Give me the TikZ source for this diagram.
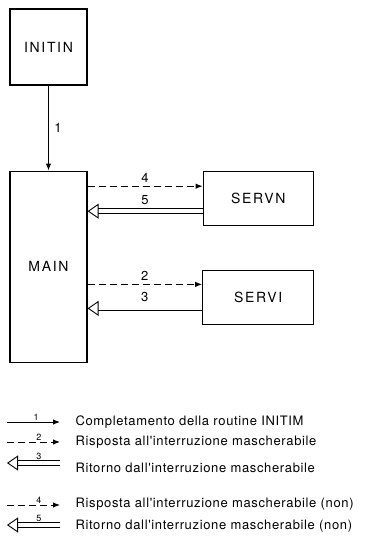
\documentclass[tikz,border=0pt]{standalone}
\usepackage{fontspec}
\setmainfont{TeX Gyre Heros}
\newfontfamily\boxfont[LetterSpace=12]{TeX Gyre Heros}
\newfontfamily\legfont[LetterSpace=5]{TeX Gyre Heros}
\usetikzlibrary{positioning,arrows.meta}

\begin{document}
\begin{tikzpicture}[x=1pt, y=-1pt,
  box/.style={rectangle, draw, line width=1.2pt, inner sep=0pt, font=\boxfont\fontsize{14}{16}\selectfont},
  num/.style={font=\fontsize{13}{15}\selectfont},
  small/.style={font=\fontsize{9}{10}\selectfont, inner sep=1pt},
  call/.style={line width=1pt, dash pattern=on 7pt off 4pt, -{Latex[length=7pt,width=5.5pt]}},
  done/.style={line width=1pt, -{Latex[length=7pt,width=5.5pt]}},
  ret/.style={double, double distance=4pt, line width=0.9pt, -{Triangle[open,length=11pt,width=15pt]}},
  legend/.style={anchor=west, font=\legfont\fontsize{13}{15}\selectfont}]
\useasboundingbox (0,0) rectangle (382,554);

% routines
\node (initin) [box, minimum width=77pt, minimum height=76pt] at (48.5,47) {INITIN};
\node (main) [box, minimum width=77pt, minimum height=191pt, below=85pt of initin] {MAIN};
\node (servn) [box, minimum width=110pt, minimum height=54pt, anchor=north west] at ([xshift=115pt]main.north east) {SERVN};
\node (servi) [box, minimum width=111pt, minimum height=54pt, below=44pt of servn] {SERVI};

\coordinate (n4) at ([yshift=12pt]servn.west);
\coordinate (n5) at ([yshift=-13pt]servn.west);
\coordinate (i2) at ([yshift=13pt]servi.west);
\coordinate (i3) at ([yshift=-11pt]servi.west);

\draw [done] (initin) -- node[right, num, xshift=2pt] {1} (main);
\draw [call] (n4 -| main.east) -- node[above, num] {4} (n4);
\draw [ret] (n5) -- node[above=3pt, num] {5} (n5 -| main.east);
\draw [call] (i2 -| main.east) -- node[above, num] {2} (i2);
\draw [ret] (i3) -- node[above=3pt, num] {3} (i3 -| main.east);

% legend
\coordinate (a1) at (7,422);  \coordinate (b1) at (60,422);
\coordinate (a2) at (7,442);  \coordinate (b2) at (60,442);
\coordinate (a3) at (60,463); \coordinate (b3) at (7,463);
\coordinate (a4) at (7,505);  \coordinate (b4) at (60,505);
\coordinate (a5) at (60,525); \coordinate (b5) at (7,525);

\node (t1) [legend] at (72,422) {Completamento della routine INITIM};
\node (t2) [legend] at (72,442) {Risposta all'interruzione mascherabile};
\node (t3) [legend] at (72,468) {Ritorno dall'interruzione mascherabile};
\node (t4) [legend] at (72,504) {Risposta all'interruzione mascherabile (non)};
\node (t5) [legend] at (72,526) {Ritorno dall'interruzione mascherabile (non)};

\draw [done] (a1) -- node[above, small, pos=0.55] {1} (b1);
\draw [call] (a2) -- node[above, small, pos=0.6] {2} (b2);
\draw [ret] (a3) -- node[above=2pt, small, pos=0.4] {3} (b3);
\draw [call] (a4) -- node[above, small, pos=0.6] {4} (b4);
\draw [ret] (a5) -- node[above=2pt, small, pos=0.4] {5} (b5);
\end{tikzpicture}
\end{document}
